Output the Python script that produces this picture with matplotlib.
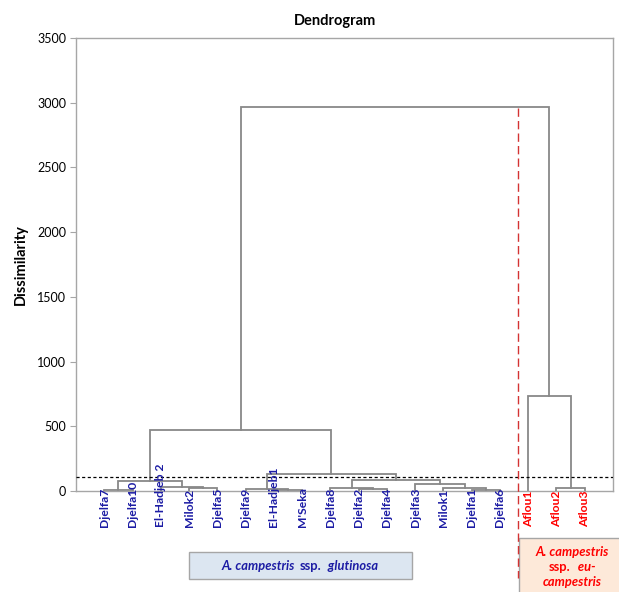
import matplotlib
matplotlib.use("Agg")
import matplotlib.pyplot as plt
from matplotlib.patches import Rectangle
from matplotlib.lines import Line2D
from matplotlib.offsetbox import TextArea, HPacker, VPacker, AnchoredOffsetbox

plt.rcParams['font.family'] = ['Lato', 'DejaVu Sans']

# ---------------- data ----------------
leaf_names = ["Djelfa7", "Djelfa10", "El-Hadjeb 2", "Milok2", "Djelfa5", "Djelfa9",
              "El-Hadjeb1", "M'Seka", "Djelfa8", "Djelfa2", "Djelfa4", "Djelfa3",
              "Milok1", "Djelfa1", "Djelfa6", "Aflou1", "Aflou2", "Aflou3"]
leaf_group = ["glutinosa"] * 15 + ["eu-campestris"] * 3

# merges: index < 18 is a leaf, index >= 18 is cluster (index - 18)
merge_a = [0, 3, 2, 18, 6, 5, 9, 8, 13, 12, 11, 25, 23, 21, 16, 15, 31]
merge_b = [1, 4, 19, 20, 7, 22, 10, 24, 14, 26, 27, 28, 29, 30, 17, 32, 33]
merge_height = [8, 23, 33, 80, 4, 13, 13, 21, 8, 26, 52, 85, 131, 471, 26, 734, 2967]
truncation_level = 105

y_ticks = [0, 500, 1000, 1500, 2000, 2500, 3000, 3500]

group_colors = {"glutinosa": "#1c1ca4", "eu-campestris": "#ff0000"}

# ---------------- figure ----------------
W, H = 619, 592
fig = plt.figure(figsize=(W / 100, H / 100), dpi=100)
ax = fig.add_axes([76 / W, 1 - 491 / H, (613 - 76) / W, (491 - 38) / H])

n = len(leaf_names)
node_x = list(range(n))
node_h = [0] * n
link_color = "#888888"
for a, b, h in zip(merge_a, merge_b, merge_height):
    xa, xb = node_x[a], node_x[b]
    ha, hb = node_h[a], node_h[b]
    ax.plot([xa, xa, xb, xb], [ha, h, h, hb], color=link_color, lw=1.3,
            solid_joinstyle='miter', zorder=2)
    node_x.append((xa + xb) / 2)
    node_h.append(h)

ax.axhline(truncation_level, color="black", lw=0.9, ls=(0, (2.5, 2)), zorder=3)

ax.set_xlim(-1, n)
ax.set_ylim(0, 3500)
ax.set_yticks(y_ticks)
ax.set_yticklabels([str(t) for t in y_ticks], fontsize=9)
ax.set_xticks([])
for s in ax.spines.values():
    s.set_color("#a6a6a6")
    s.set_linewidth(1.0)
ax.tick_params(axis='y', direction='out', length=4, color="#a6a6a6", pad=3)
ax.set_ylabel("Dissimilarity", fontsize=10.5, fontweight='bold', labelpad=7)
fig.text(335 / W, 1 - 21 / H, "Dendrogram", ha='center', va='center',
         fontsize=10.5, fontweight='bold')

# leaf labels
for i, (name, g) in enumerate(zip(leaf_names, leaf_group)):
    ax.text(i, -278, name, rotation=90, ha='center', va='bottom',
            fontsize=8.7, fontweight='bold', color=group_colors[g],
            clip_on=False, zorder=4)

# red dashed separator
fig.add_artist(Line2D([517.5 / W, 517.5 / W], [1 - 108 / H, 1 - 578 / H],
                      transform=fig.transFigure, color="#d43333", lw=1.0,
                      ls=(0, (6, 3))))

# blue box
fig.add_artist(Rectangle((189 / W, 1 - 579 / H), (412 - 189) / W, (579 - 552) / H,
                         transform=fig.transFigure, facecolor="#dce6f1",
                         edgecolor="#a6a6a6", lw=1.0))
bc = group_colors["glutinosa"]
fs = 9.3
parts = HPacker(children=[
    TextArea("A. campestris", textprops=dict(color=bc, fontsize=fs, fontweight='bold', fontstyle='italic')),
    TextArea("ssp.", textprops=dict(color=bc, fontsize=fs, fontweight='bold')),
    TextArea(" glutinosa", textprops=dict(color=bc, fontsize=fs, fontweight='bold', fontstyle='italic')),
], align="baseline", pad=0, sep=3)
fig.add_artist(AnchoredOffsetbox(loc='center', child=parts, pad=0, borderpad=0, frameon=False,
                                 bbox_to_anchor=(300 / W, 1 - 565.5 / H),
                                 bbox_transform=fig.transFigure))

# red box
fig.add_artist(Rectangle((519 / W, 1 - 600 / H), (630 - 519) / W, (600 - 538) / H,
                         transform=fig.transFigure, facecolor="#fde9d9",
                         edgecolor="#a6a6a6", lw=1.0))
rc = group_colors["eu-campestris"]
line1 = TextArea("A. campestris", textprops=dict(color=rc, fontsize=fs, fontweight='bold', fontstyle='italic'))
line2 = HPacker(children=[
    TextArea("ssp.", textprops=dict(color=rc, fontsize=fs, fontweight='bold')),
    TextArea(" eu-", textprops=dict(color=rc, fontsize=fs, fontweight='bold', fontstyle='italic')),
], align="baseline", pad=0, sep=3)
line3 = TextArea("campestris", textprops=dict(color=rc, fontsize=fs, fontweight='bold', fontstyle='italic'))
red_txt = VPacker(children=[line1, line2, line3], align="center", pad=0, sep=2)
fig.add_artist(AnchoredOffsetbox(loc='center', child=red_txt, pad=0, borderpad=0, frameon=False,
                                 bbox_to_anchor=(572 / W, 1 - 567 / H),
                                 bbox_transform=fig.transFigure))

fig.savefig("out.png", dpi=100)
